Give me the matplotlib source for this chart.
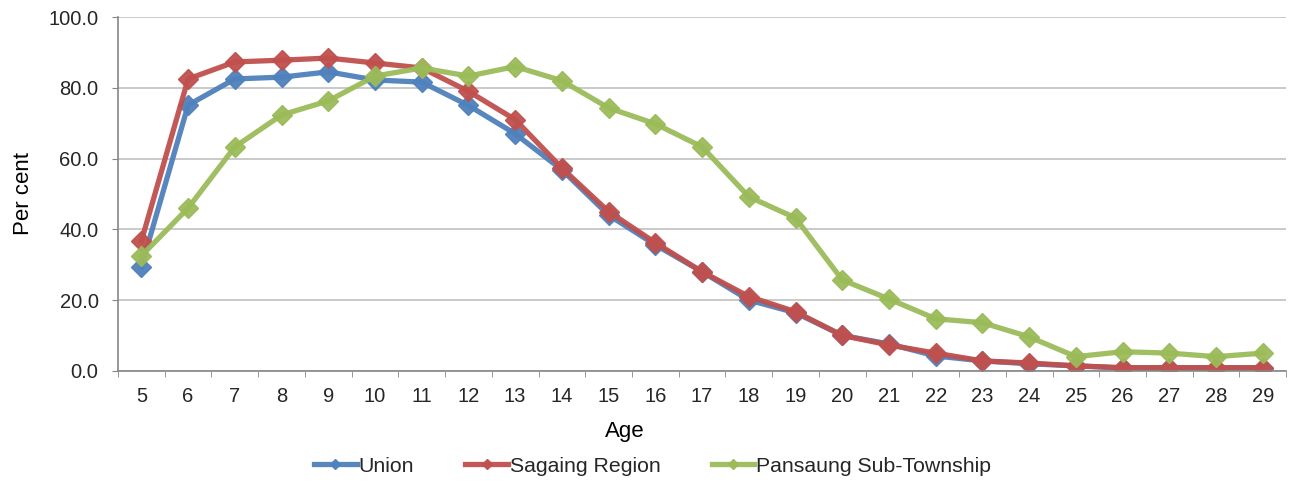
import numpy as np
import matplotlib.pyplot as plt
from matplotlib.ticker import FixedLocator

plt.rcParams['font.family'] = ['Liberation Sans', 'DejaVu Sans']
plt.rcParams['text.color'] = '#262626'
plt.rcParams['xtick.labelcolor'] = '#262626'
plt.rcParams['ytick.labelcolor'] = '#262626'

# ---- 數據 ----
ages = list(range(5, 30))
union = [29.4, 75.1, 82.5, 83.0, 84.5, 82.2, 81.6, 75.0, 67.0, 56.8,
         44.0, 35.6, 28.0, 20.0, 16.4, 10.0, 7.6, 4.2, 2.8, 2.0,
         1.4, 0.8, 0.8, 0.8, 0.8]
sagaing = [36.7, 82.5, 87.3, 87.8, 88.4, 87.0, 85.6, 79.0, 71.0, 57.3,
           45.0, 36.2, 28.0, 21.0, 16.7, 10.0, 7.3, 5.0, 2.8, 2.2,
           1.4, 0.9, 0.9, 0.9, 0.9]
pansaung = [32.5, 46.0, 63.3, 72.3, 76.3, 83.3, 85.6, 83.3, 86.0, 82.0,
            74.3, 69.8, 63.3, 49.2, 43.2, 25.7, 20.3, 14.7, 13.6, 9.6,
            4.0, 5.4, 5.0, 4.0, 5.0]

series = [('Union', union, '#4F81BD'),
          ('Sagaing Region', sagaing, '#C0504D'),
          ('Pansaung Sub-Township', pansaung, '#9BBB59')]

fig = plt.figure(figsize=(12.9, 4.86), dpi=100)
ax = fig.add_axes([0.0915, 0.237, 0.9055, 0.728])

x = np.arange(len(ages))
for name, vals, col in series:
    ax.plot(x, vals, color=col, linewidth=3.8, marker='D', markersize=10,
            markeredgecolor=col, label=name, alpha=0.95)

ax.set_xlim(-0.5, len(ages) - 0.5)
ax.set_ylim(0, 100)
ax.set_yticks(np.arange(0, 101, 20))
ax.set_yticklabels([f'{v:.1f}' for v in np.arange(0, 101, 20)])
ax.set_xticks(x)
ax.set_xticklabels([str(a) for a in ages])
ax.xaxis.set_minor_locator(FixedLocator(np.arange(-0.5, len(ages), 1)))
ax.tick_params(axis='x', which='major', length=0, labelsize=14.5, pad=12)
ax.tick_params(axis='x', which='minor', length=4.5, color='#868686')
ax.tick_params(axis='y', length=4.5, color='#868686', labelsize=14.5, pad=9.5)

ax.grid(axis='y', color='#C0C0C0', linewidth=1.2)
ax.set_axisbelow(True)
for s in ['top', 'right']:
    ax.spines[s].set_visible(False)
for s in ['left', 'bottom']:
    ax.spines[s].set_color('#868686')
    ax.spines[s].set_linewidth(1.2)

ax.set_xlabel('Age', fontsize=16)
ax.set_ylabel('Per cent', fontsize=16)
ax.xaxis.set_label_coords(0.4335, -0.141)
ax.yaxis.set_label_coords(-0.072, 0.5)

fig.legend(loc='center', bbox_to_anchor=(0.506, 0.041), ncol=3, frameon=False,
           fontsize=15.3, handlelength=2.0, handletextpad=0.1, columnspacing=2.4,
           markerscale=0.5)

plt.savefig('out.png')
